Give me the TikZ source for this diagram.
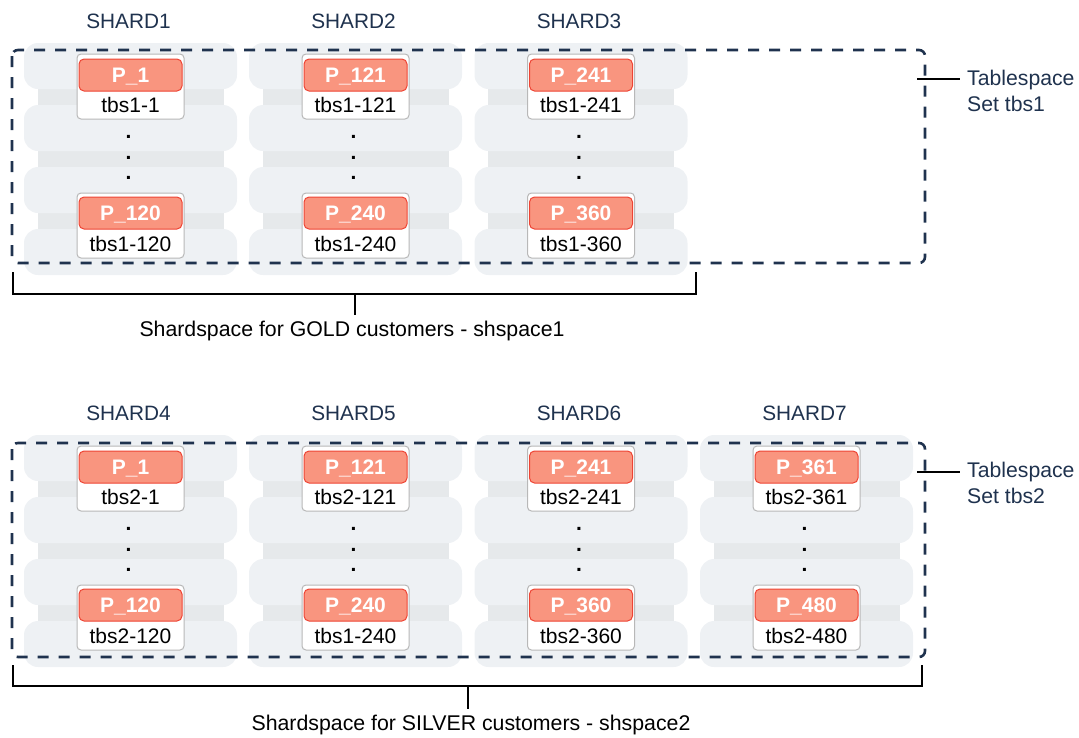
\documentclass[tikz,border=0pt]{standalone}
\usepackage{fontspec}
\setmainfont{Liberation Sans}
\usetikzlibrary{positioning}

\definecolor{pillgray}{HTML}{EEF1F4}
\definecolor{linkgray}{HTML}{E6E9EB}
\definecolor{salmon}{HTML}{F9957F}
\definecolor{redline}{HTML}{EE4434}
\definecolor{cardline}{HTML}{B8B8B8}
\definecolor{navy}{HTML}{1F324E}

\tikzset{
    pill/.style={fill=pillgray, rounded corners=14pt},
    card/.style={draw=cardline, fill=white, rounded corners=4pt, line width=1pt,
        minimum width=107pt, minimum height=65pt, inner sep=0pt},
    pbox/.style={draw=redline, fill=salmon, rounded corners=5pt, line width=1pt,
        minimum width=103pt, minimum height=32pt, inner sep=0pt, text=white,
        text height=15pt, text depth=0pt, font=\bfseries\fontsize{21}{24}\selectfont},
    tbs/.style={inner sep=0pt, text height=15pt, text depth=0pt,
        font=\fontsize{21}{24}\selectfont},
    ellip/.style={inner sep=0pt, font=\bfseries\fontsize{21}{24}\selectfont},
    shardlbl/.style={inner sep=0pt, text height=15pt, text depth=0pt, text=navy,
        font=\fontsize{20.8}{24}\selectfont},
    tslbl/.style={inner sep=0pt, text=navy, align=left,
        font=\fontsize{21.2}{26}\selectfont},
    spacelbl/.style={inner sep=0pt, text height=15pt, text depth=0pt,
        font=\fontsize{21.3}{24}\selectfont},
    tsbox/.style={draw=navy, line width=2.6pt, dash pattern=on 11pt off 10pt, rounded corners=6pt},
    bracket/.style={line width=1.3pt},
}

\begin{document}
\begin{tikzpicture}[x=1pt, y=-1pt]
    \useasboundingbox (0,0) rectangle (1079,737);

    % Shards: number / centre x / vertical offset / first and last partition / tablespace sets
    \foreach \n/\cx/\dy/\pa/\pb/\sa/\sb in {1/130.5/0/1/120/1/1, 2/355.5/0/121/240/1/1,
        3/581/0/241/360/1/1, 4/130.5/392/1/120/2/2, 5/355.5/392/121/240/2/1,
        6/581/392/241/360/2/2, 7/806.5/392/361/480/2/2} {
        % Stacked disks behind the chunks
        \fill[linkgray] ({\cx-93},{50+\dy}) rectangle ({\cx+93},{268+\dy});
        \foreach \k in {0,...,3}
            \fill[pill] ({\cx-106.5},{43+62*\k+\dy}) rectangle ({\cx+106.5},{89+62*\k+\dy});

        \node[shardlbl] (s\n) at ({\cx-2},{21+\dy}) {SHARD\n};

        % First chunk
        \node[card] (ca\n) at (\cx,{86.5+\dy}) {};
        \node[pbox] (pa\n) at (\cx,{75+\dy}) {P\_\pa};
        \node[tbs] (ta\n) at (\cx,{105+\dy}) {tbs\sa-\pa};

        % Dots in between
        \node[ellip] (da\n) at ({\cx-2},{137+\dy}) {.};
        \node[ellip] (db\n) at ({\cx-2},{158+\dy}) {.};
        \node[ellip] (dc\n) at ({\cx-2},{178+\dy}) {.};

        % Last chunk
        \node[card] (cb\n) at (\cx,{225.5+\dy}) {};
        \node[pbox] (pb\n) at (\cx,{213+\dy}) {P\_\pb};
        \node[tbs] (tb\n) at (\cx,{244+\dy}) {tbs\sb-\pb};
    }

    % Tablespace sets
    \draw[tsbox] (12,50) rectangle (925,263);
    \draw[tsbox] (12,443) rectangle (925,657);

    \node[tslbl, anchor=north west] (tl1) at (967,70) {Tablespace\\Set tbs1};
    \node[tslbl, anchor=north west] (tl2) at (967,462) {Tablespace\\Set tbs2};
    \coordinate (te1) at (917,79);
    \coordinate (te2) at (917,472);
    \draw[bracket] (te1) -- ([xshift=-7pt]te1 -| tl1.west);
    \draw[bracket] (te2) -- ([xshift=-7pt]te2 -| tl2.west);

    % Shardspaces
    \node[spacelbl] (gold) at (352,329) {Shardspace for GOLD customers - shspace1};
    \node[spacelbl] (silver) at (471,723) {Shardspace for SILVER customers - shspace2};
    \coordinate (bl1) at (13,272);
    \coordinate (br1) at (696,272);
    \coordinate (bl2) at (13,665);
    \coordinate (br2) at (922,665);
    \draw[bracket] (bl1) -- ++(0,22) -| (br1);
    \draw[bracket] (bl2) -- ++(0,21) -| (br2);
    \draw[bracket] (355,294) -- ([yshift=6pt]gold.north -| 355,0);
    \draw[bracket] (468,686) -- ([yshift=6pt]silver.north -| 468,0);
\end{tikzpicture}
\end{document}
